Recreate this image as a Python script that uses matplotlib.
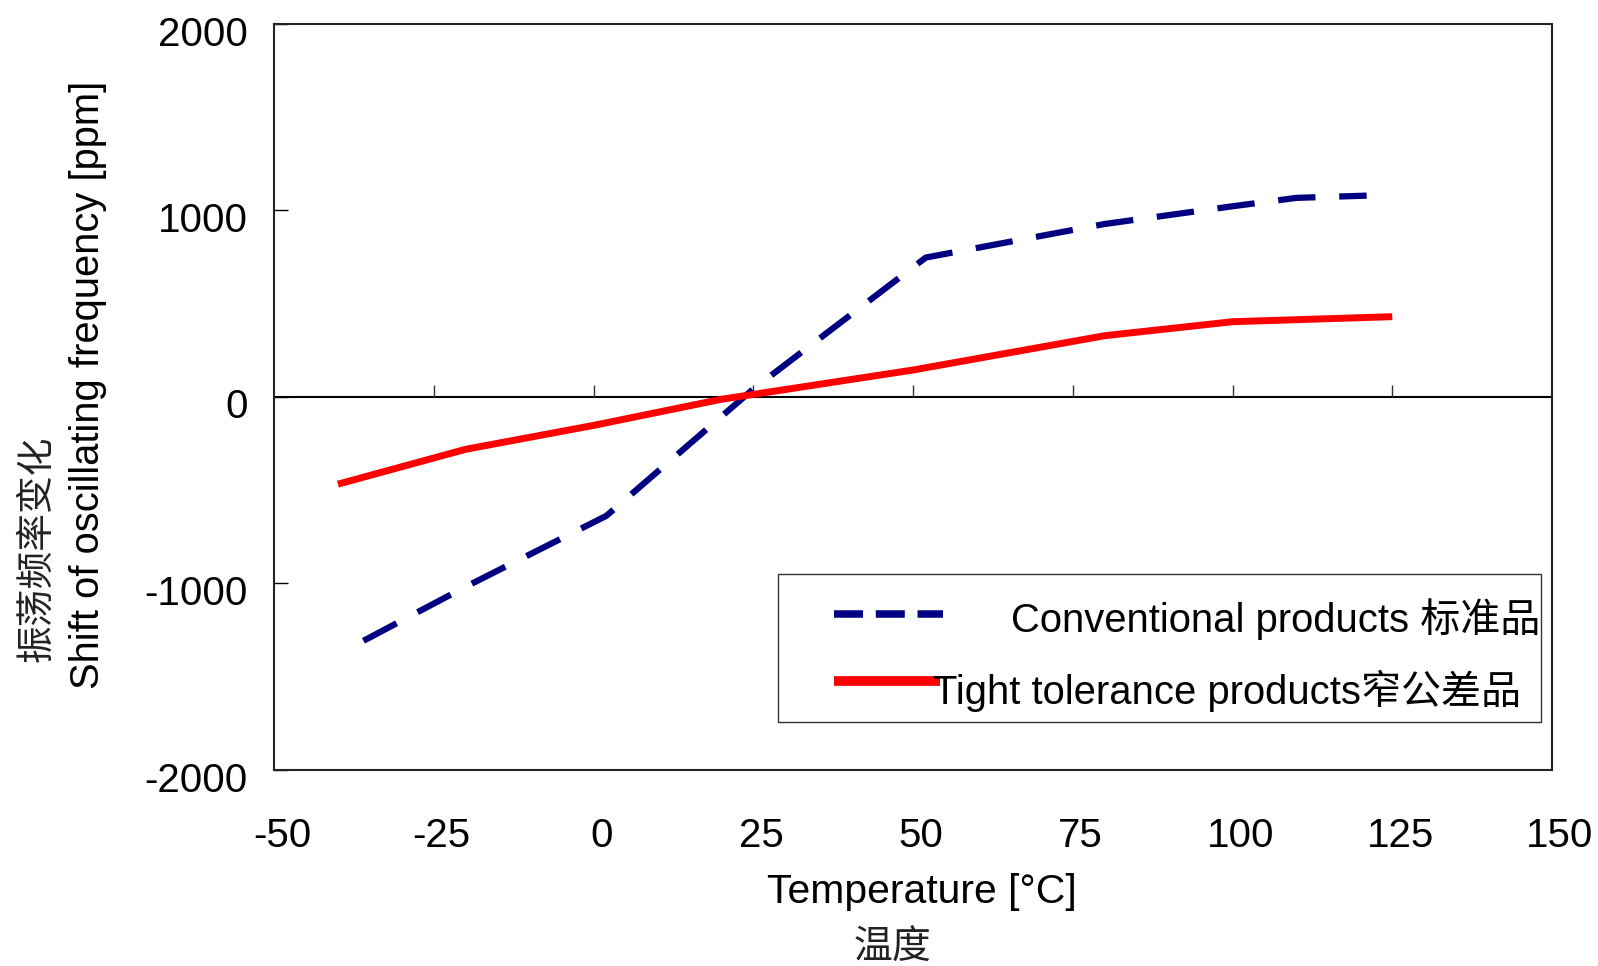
import matplotlib
matplotlib.use("Agg")
import matplotlib.pyplot as plt
from matplotlib.patches import Rectangle
from matplotlib.lines import Line2D
from matplotlib.transforms import ScaledTranslation

plt.rcParams['font.family'] = ['Liberation Sans', 'Noto Sans CJK SC', 'DejaVu Sans']
plt.rcParams['axes.unicode_minus'] = False

# data
conv_temp = [-36, -20, 2, 25, 52, 80, 100, 110, 121]
conv_shift = [-1310, -1020, -640, 40, 745, 925, 1020, 1065, 1077]
tight_temp = [-40, -20, 0, 20, 50, 80, 100, 125]
tight_shift = [-470, -283, -155, -15, 142, 326, 401, 428]
xticks = [-50, -25, 0, 25, 50, 75, 100, 125, 150]
yticks = [-2000, -1000, 0, 1000, 2000]
conv_label = "Conventional products 标准品"
tight_label = "Tight tolerance products窄公差品"

fig = plt.figure(figsize=(15.98, 9.66), dpi=100)
ax = fig.add_axes([274/1598, 1-769.5/966, 1278/1598, 746/966])
ax.set_xlim(-50, 150)
ax.set_ylim(-2000, 2000)

ax.axhline(0, color='black', lw=1.5, zorder=1)
ax.plot(xticks[1:-1], [0]*len(xticks[1:-1]), ls='none', marker=2, ms=9,
        mew=1, color='#333333', zorder=1)

ax.plot(conv_temp, conv_shift, color='#000080', lw=4.5, ls=(0, (6, 3.8)),
        dash_capstyle='butt', zorder=3)
ax.plot(tight_temp, tight_shift, color='#ff0000', lw=5, solid_capstyle='butt',
        zorder=3)

ax.set_xticks(xticks)
ax.set_yticks(yticks)
ax.tick_params(axis='x', length=0, pad=34, labelsize=29)
ax.tick_params(axis='y', direction='in', length=10, width=1, pad=19, labelsize=29)
for lab in ax.get_xticklabels():
    lab.set_transform(lab.get_transform() + ScaledTranslation(0.08, 0, fig.dpi_scale_trans))
for lab in ax.get_yticklabels():
    lab.set_transform(lab.get_transform() + ScaledTranslation(0, -0.07, fig.dpi_scale_trans))
for s in ax.spines.values():
    s.set_linewidth(1.5)
    s.set_color('#222222')

# axis titles
fig.text(88/1598, 1-385/966, "Shift of oscillating frequency [ppm]", rotation=90,
         ha='center', va='center', fontsize=28.7)
fig.text(37/1598, 1-549/966, "振荡频率变化", rotation=90, ha='center', va='center',
         fontsize=27.2, family=['Noto Sans CJK SC'], color='#222222')
fig.text(922/1598, 1-892/966, "Temperature [°C]", ha='center', va='center', fontsize=29.4)
fig.text(892/1598, 1-948/966, "温度", ha='center', va='center', fontsize=28,
         family=['Noto Sans CJK SC'], color='#222222')

# legend
ax.add_patch(Rectangle((0.394, 0.0643), 0.5974, 0.198, transform=ax.transAxes,
                       fill=True, facecolor='white', edgecolor='#333333', lw=1, zorder=4))
ax.add_line(Line2D([0.4378, 0.5231], [0.2078, 0.2078], transform=ax.transAxes,
                   color='#000080', lw=5.4, ls=(0, (3.87, 1.7)), zorder=5))
ax.add_line(Line2D([0.4378, 0.5208], [0.1189, 0.1189], transform=ax.transAxes,
                   color='#ff0000', lw=7, zorder=5, solid_capstyle='butt'))
ax.text(0.5767, 0.2012, conv_label, transform=ax.transAxes, ha='left', va='center',
        fontsize=28.8, zorder=6)
ax.text(0.5153, 0.1050, tight_label, transform=ax.transAxes, ha='left', va='center',
        fontsize=28.8, zorder=6)

fig.savefig("out.png", dpi=100)
